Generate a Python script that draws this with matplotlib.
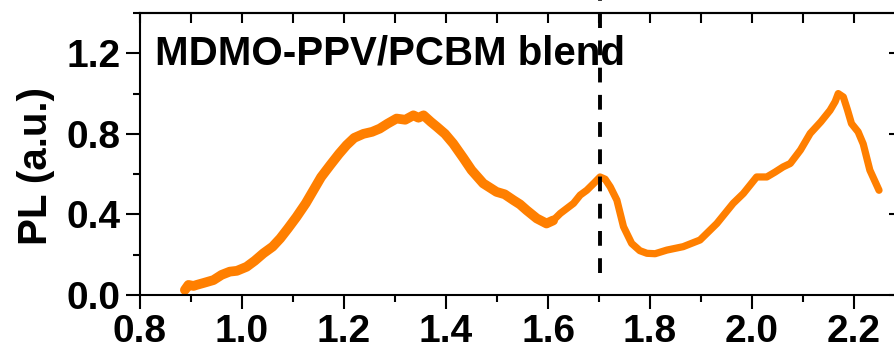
import matplotlib
matplotlib.use('Agg')
from matplotlib import pyplot as plt
from matplotlib.ticker import MultipleLocator, NullFormatter

plt.rcParams['font.family'] = 'Liberation Sans'
plt.rcParams['font.weight'] = 'bold'

# photon energy (eV) and PL intensity
energy = [0.888, 0.895, 0.905, 0.911, 0.925, 0.944, 0.96, 0.976, 0.99, 1.009,
          1.025, 1.042, 1.06, 1.075, 1.09, 1.107, 1.125, 1.14, 1.155, 1.173,
          1.19, 1.205, 1.22, 1.238, 1.255, 1.27, 1.285, 1.303, 1.32, 1.336,
          1.346, 1.356, 1.37, 1.382, 1.398, 1.414, 1.434, 1.45, 1.473, 1.499,
          1.515, 1.532, 1.545, 1.558, 1.578, 1.597, 1.61, 1.624, 1.65, 1.663,
          1.676, 1.69, 1.702, 1.712, 1.722, 1.735, 1.748, 1.764, 1.78, 1.794,
          1.81, 1.833, 1.865, 1.898, 1.931, 1.963, 1.983, 2.009, 2.029, 2.045,
          2.061, 2.075, 2.095, 2.114, 2.135, 2.153, 2.163, 2.169, 2.179, 2.187,
          2.195, 2.208, 2.218, 2.231, 2.249]
pl = [0.025, 0.05, 0.045, 0.05, 0.06, 0.074, 0.1, 0.116, 0.12, 0.14,
      0.17, 0.207, 0.24, 0.281, 0.33, 0.388, 0.455, 0.52, 0.585, 0.645,
      0.7, 0.744, 0.78, 0.80, 0.81, 0.826, 0.85, 0.876, 0.87, 0.892,
      0.88, 0.892, 0.86, 0.835, 0.8, 0.752, 0.68, 0.62, 0.554, 0.512,
      0.5, 0.471, 0.45, 0.421, 0.38, 0.355, 0.37, 0.405, 0.455, 0.496,
      0.52, 0.555, 0.586, 0.575, 0.537, 0.471, 0.339, 0.256, 0.22, 0.207,
      0.205, 0.223, 0.24, 0.273, 0.355, 0.455, 0.504, 0.586, 0.586, 0.61,
      0.636, 0.653, 0.72, 0.802, 0.86, 0.917, 0.96, 1.0, 0.983, 0.92,
      0.851, 0.81, 0.75, 0.62, 0.52]
marker_energy = 1.702
noisy_end = 47  # the low-energy part of the spectrum is noisier (drawn thicker)

fig = plt.figure(figsize=(8.95, 3.48), dpi=100)
ax = fig.add_axes([140/895, 53/348, 763/895, 282/348])

ax.plot(energy, pl, color='#ff7f00', lw=5.2, solid_capstyle='round', solid_joinstyle='round')
ax.plot(energy[:noisy_end], pl[:noisy_end], color='#ff7f00', lw=7, solid_capstyle='round',
        solid_joinstyle='round')
ax.plot([marker_energy, marker_energy], [0.11, 1.465], color='black', lw=2.8,
        linestyle=(0, (3.8, 3.2)), clip_on=False)

ax.set_xlim(0.8, 2.296)
ax.set_ylim(0, 1.4)
ax.xaxis.set_minor_locator(MultipleLocator(0.1))
ax.yaxis.set_minor_locator(MultipleLocator(0.2))
ax.set_xticks([0.8, 1.0, 1.2, 1.4, 1.6, 1.8, 2.0, 2.2])
ax.set_xticklabels(['0.8', '1.0', '1.2', '1.4', '1.6', '1.8', '2.0', '2.2'])
ax.set_yticks([0.0, 0.4, 0.8, 1.2])
ax.set_yticklabels(['0.0', '0.4', '0.8', '1.2'])
ax.tick_params(which='major', direction='out', length=10, width=1.5, labelsize=28, pad=4)
ax.tick_params(which='minor', direction='out', length=5, width=1.5)
for s in ax.spines.values():
    s.set_linewidth(1.5)

top = ax.secondary_xaxis('top')
top.xaxis.set_major_locator(MultipleLocator(0.1))
top.xaxis.set_major_formatter(NullFormatter())
top.tick_params(direction='in', length=7, width=1.5)
top.spines['top'].set_linewidth(1.5)
right = ax.secondary_yaxis('right')
right.yaxis.set_major_locator(MultipleLocator(0.4))
right.yaxis.set_minor_locator(MultipleLocator(0.2))
right.yaxis.set_major_formatter(NullFormatter())
right.tick_params(which='major', direction='in', length=10, width=1.5)
right.tick_params(which='minor', direction='in', length=5, width=1.5)

ax.text(0.0197, 0.816, 'MDMO-PPV/PCBM blend', transform=ax.transAxes,
        fontsize=29, fontweight='bold', ha='left', va='baseline')
fig.text(36/895, 1 - 166/348, 'PL (a.u.)', rotation=90, fontsize=29,
         fontweight='bold', ha='center', va='center')

fig.savefig('out.png', dpi=100)
